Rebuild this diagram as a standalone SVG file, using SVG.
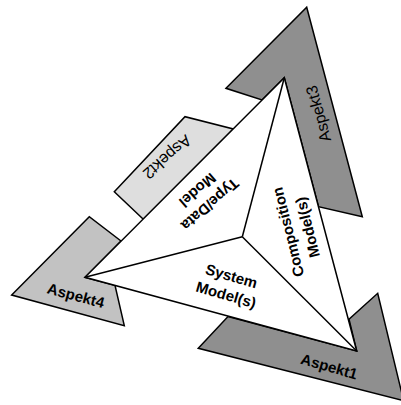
<svg xmlns="http://www.w3.org/2000/svg" width="401" height="405" viewBox="0 0 401 405">
<style>
.sh{stroke:#000;stroke-width:1.5;stroke-linejoin:miter}
.dark{fill:#8f8f8f}
.mid{fill:#c2c2c2}
.light{fill:#dedede}
.b{font-family:"Liberation Sans",Arial,sans-serif;font-weight:bold;font-size:15px;text-anchor:middle;fill:#000}
.r{font-family:"Liberation Sans",Arial,sans-serif;font-size:16px;text-anchor:middle;fill:#000}
</style>
<rect width="401" height="405" fill="#fff"/>
<g id="aspekt3">
<polygon class="sh dark" points="226,88.3 306.7,7.3 362.3,216.7 318.5,206.7 284.3,77.7 262,100"/>
<text class="r" transform="translate(318,114) rotate(-105)" y="6">Aspekt3</text>
</g>
<g id="aspekt1">
<polygon class="sh dark" points="198.3,348.3 228,316.5 356.7,351 349,319.3 377.7,293.3 403.6,400.7"/>
<text class="b" transform="translate(329.2,366.7) rotate(16)" y="5">Aspekt1</text>
</g>
<g id="aspekt4">
<polygon class="sh mid" points="11.7,295 89.3,216.7 121,241 85,277.3 115,285.4 124.3,325.7"/>
<text class="b" transform="translate(75.8,295.8) rotate(15)" y="5">Aspekt4</text>
</g>
<g id="aspekt2">
<polygon class="sh light" points="114.3,191.7 185,116.7 233.3,129 143.3,219.3"/>
<text class="r" transform="translate(167.5,157.5) rotate(139)" y="6">Aspekt2</text>
</g>
<g id="triangle">
<polygon class="sh" fill="#fff" points="284.3,77.7 85,277.3 356.7,351"/>
</g>
<g id="connectors" class="sh" fill="none">
<line x1="242.3" y1="236.7" x2="284.3" y2="77.7"/>
<line x1="242.3" y1="236.7" x2="85" y2="277.3"/>
<line x1="242.3" y1="236.7" x2="356.7" y2="351"/>
</g>
<g id="typedata">
<text class="b" transform="translate(204,197.5) rotate(139)"><tspan x="0" y="-4">Type/Data</tspan><tspan x="0" y="15">Model</tspan></text>
</g>
<g id="composition">
<text class="b" transform="translate(298,229.6) rotate(-104)"><tspan x="0" y="-5">Composition</tspan><tspan x="0" y="15">Model(s)</tspan></text>
</g>
<g id="system">
<text class="b" transform="translate(228.8,285.4) rotate(16)"><tspan x="0" y="-4.5">System</tspan><tspan x="0" y="15">Model(s)</tspan></text>
</g>
</svg>
